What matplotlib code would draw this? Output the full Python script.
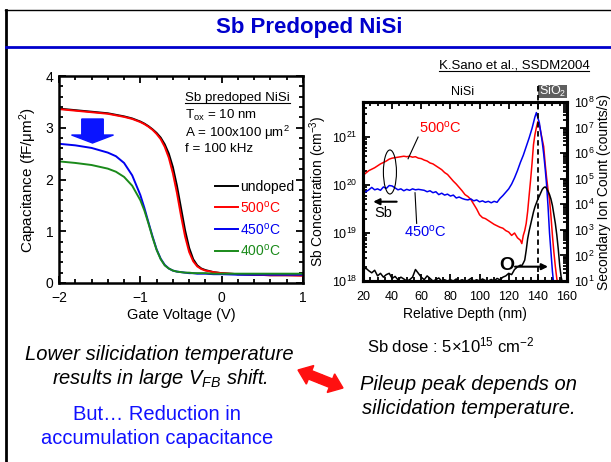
import numpy as np
import matplotlib
matplotlib.use("Agg")
import matplotlib.pyplot as plt
from matplotlib.patches import Ellipse, Rectangle, FancyArrow
from matplotlib.lines import Line2D
from matplotlib.ticker import MultipleLocator, LogLocator, NullFormatter
import matplotlib.transforms as mtransforms

plt.rcParams['font.family'] = ['Liberation Sans', 'DejaVu Sans']
plt.rcParams['mathtext.fontset'] = 'custom'
plt.rcParams['mathtext.rm'] = 'Liberation Sans'
plt.rcParams['mathtext.it'] = 'Liberation Sans:italic'
plt.rcParams['mathtext.bf'] = 'Liberation Sans:bold'

W, H = 611, 462

# C-V curves (gate voltage in V, capacitance in fF/um^2)
gate_v = [-2.0, -1.8, -1.6, -1.4, -1.3, -1.2, -1.1, -1.0, -0.95, -0.9, -0.85, -0.8,
          -0.75, -0.7, -0.65, -0.6, -0.55, -0.5, -0.45, -0.4, -0.35, -0.3, -0.25,
          -0.2, -0.1, 0.0, 0.2, 0.4, 0.6, 0.8, 1.0]
cap_undoped = [3.37, 3.34, 3.31, 3.28, 3.25, 3.22, 3.18, 3.12, 3.08, 3.03, 2.97, 2.90,
               2.81, 2.68, 2.50, 2.24, 1.88, 1.45, 1.02, 0.68, 0.46, 0.34, 0.28,
               0.25, 0.21, 0.19, 0.17, 0.16, 0.15, 0.15, 0.15]
cap_500 = [3.36, 3.33, 3.30, 3.27, 3.24, 3.21, 3.17, 3.11, 3.07, 3.02, 2.96, 2.88,
           2.78, 2.63, 2.42, 2.12, 1.74, 1.30, 0.90, 0.60, 0.42, 0.32, 0.27,
           0.24, 0.21, 0.19, 0.17, 0.16, 0.15, 0.15, 0.14]
cap_450 = [2.69, 2.66, 2.61, 2.52, 2.45, 2.32, 2.08, 1.70, 1.45, 1.17, 0.90, 0.65,
           0.47, 0.35, 0.28, 0.24, 0.22, 0.21, 0.20, 0.19, 0.19, 0.18, 0.18,
           0.18, 0.17, 0.17, 0.16, 0.16, 0.16, 0.16, 0.16]
cap_400 = [2.35, 2.32, 2.28, 2.21, 2.15, 2.05, 1.88, 1.60, 1.40, 1.15, 0.88, 0.64,
           0.46, 0.34, 0.28, 0.24, 0.22, 0.21, 0.20, 0.20, 0.19, 0.19, 0.19,
           0.19, 0.18, 0.18, 0.18, 0.18, 0.18, 0.18, 0.18]

# SIMS profiles: log10 of Sb concentration (cm^-3) and O count (counts/s)
depth_500 = np.concatenate([np.arange(20, 129, 2), np.arange(129, 155)])
sb500_log = [20.20, 20.25, 20.30, 20.33, 20.36, 20.40, 20.44, 20.47, 20.50, 20.54,
             20.56, 20.57, 20.58, 20.59, 20.60, 20.59, 20.60, 20.58, 20.59, 20.56,
             20.55, 20.52, 20.50, 20.46, 20.44, 20.40, 20.36, 20.32, 20.26, 20.22,
             20.15, 20.08, 20.02, 19.95, 19.88, 19.80, 19.76, 19.70, 19.60, 19.50,
             19.38, 19.32, 19.30, 19.26, 19.22, 19.18, 19.15, 19.12, 19.10, 19.05,
             19.02, 18.95, 19.00, 18.90, 18.85,
             18.78, 18.95, 19.05, 19.20, 19.45, 19.78, 20.10, 20.45, 20.84, 21.05,
             21.20, 21.32, 21.25, 21.10, 20.95, 20.80, 20.45, 20.15, 19.90, 19.70,
             19.35, 18.95, 18.60, 18.30, 18.05, 17.90]

depth_450 = np.concatenate([np.arange(20, 137, 2), np.arange(137, 152)])
sb450_log = [19.88, 19.86, 19.90, 19.95, 19.90, 19.92, 19.89, 19.96, 19.93, 19.99,
             19.98, 19.94, 19.90, 19.92, 19.88, 19.91, 19.89, 19.92, 19.90, 19.91,
             19.90, 19.89, 19.86, 19.88, 19.84, 19.86, 19.80, 19.83, 19.79, 19.81,
             19.77, 19.79, 19.73, 19.75, 19.72, 19.70, 19.69, 19.71, 19.67, 19.69,
             19.65, 19.67, 19.64, 19.66, 19.63, 19.66, 19.64,
             19.72, 19.78, 19.85, 19.92, 20.02, 20.15, 20.30, 20.47, 20.62, 20.80,
             20.98, 21.18,
             21.30, 21.42, 21.51, 21.40, 21.30, 21.10, 20.90, 20.65, 20.35, 20.00,
             19.55, 19.00, 18.60, 18.20, 17.90]

depth_o = np.concatenate([np.arange(20, 129, 2), np.arange(129, 158)])
o_log = [1.45, 1.50, 1.40, 1.32, 1.42, 1.20, 1.30, 1.15, 1.25, 1.30,
         1.10, 1.18, 1.05, 1.15, 1.08, 1.00, 1.05, 1.15, 1.45, 1.30,
         1.15, 1.05, 1.20, 1.10, 1.00, 1.05, 1.12, 1.00, 1.05, 1.00,
         1.05, 1.00, 1.08, 1.00, 1.05, 1.00, 1.02, 1.10, 1.00, 1.05,
         1.00, 1.08, 1.02, 1.00, 1.06, 1.00, 1.10, 1.05, 1.15, 1.20,
         1.30, 1.25, 1.45, 1.55, 1.62,
         1.60, 1.70, 1.82, 2.20, 2.65, 2.95, 3.20, 3.45, 3.70, 3.90,
         4.05, 4.20, 4.32, 4.45, 4.58, 4.65, 4.68, 4.62, 4.50, 4.38,
         4.20, 3.95, 3.60, 3.25, 2.80, 2.25, 1.60, 1.15, 0.90]

RED = '#ff0000'
BLUE = '#0000f0'
GREEN = '#1a8a1a'
TITLE_BLUE = '#0000cc'


def fx(px):
    return px / W


def fy(py):
    return 1 - py / H


def px_in(px, py):
    return px / 100.0, (H - py) / 100.0


fig = plt.figure(figsize=(W / 100, H / 100), dpi=100, facecolor='white')

# slide frame and title
fig.add_artist(Line2D([fx(6), fx(6)], [fy(10), fy(462)], color='black', lw=2))
fig.add_artist(Line2D([fx(5), 1], [fy(10), fy(10)], color='black', lw=1))
fig.add_artist(Line2D([fx(6), 1], [fy(47), fy(47)], color=TITLE_BLUE, lw=2))
fig.text(fx(309), fy(27), 'Sb Predoped NiSi', fontsize=16, fontweight='bold',
         color=TITLE_BLUE, ha='center', va='center',
         family=['Liberation Sans Narrow', 'Liberation Sans'])

# ---- C-V plot ----
ax1 = fig.add_axes([fx(59), fy(283), 244 / W, 207 / H])
ax1.plot(gate_v, cap_undoped, color='black', lw=1.4, label='undoped')
ax1.plot(gate_v, cap_500, color=RED, lw=1.4, label='500$^{\\rm o}$C')
ax1.plot(gate_v, cap_450, color=BLUE, lw=1.4, label='450$^{\\rm o}$C')
ax1.plot(gate_v, cap_400, color=GREEN, lw=1.4, label='400$^{\\rm o}$C')
ax1.set_xlim(-2, 1)
ax1.set_ylim(0, 4)
ax1.xaxis.set_major_locator(MultipleLocator(1))
ax1.xaxis.set_minor_locator(MultipleLocator(0.2))
ax1.yaxis.set_major_locator(MultipleLocator(1))
ax1.yaxis.set_minor_locator(MultipleLocator(0.2))
ax1.tick_params(which='both', direction='in', top=True, right=True, labelsize=10, width=1.3)
ax1.tick_params(which='major', length=5)
ax1.tick_params(axis='x', which='major', pad=6)
ax1.tick_params(axis='y', which='major', pad=4)
ax1.tick_params(which='minor', length=3)
for s in ax1.spines.values():
    s.set_linewidth(1.8)
ax1.set_xlabel('Gate Voltage (V)', fontsize=10.5, labelpad=2)
ax1.set_ylabel('Capacitance (fF/μm$^2$)', fontsize=11, labelpad=5)
ax1.legend(loc='upper left', bbox_to_anchor=(0.639, 0.50), frameon=False, fontsize=10,
           handlelength=1.65, handletextpad=0.15, labelspacing=0.42, borderpad=0,
           borderaxespad=0, labelcolor='linecolor')

t_sb = fig.text(fx(185), fy(97.5), 'Sb predoped NiSi', fontsize=9.6, va='center')
fig.text(fx(185), fy(115.5), 'T$_{\\rm ox}$ = 10 nm', fontsize=9.6, va='center')
fig.text(fx(185), fy(133), 'A = 100x100 μm$^2$', fontsize=9.6, va='center')
fig.text(fx(185), fy(149.5), 'f = 100 kHz', fontsize=9.6, va='center')

# big blue arrow showing the drop in accumulation capacitance
x0, y0 = px_in(92.5, 119)
x1, y1 = px_in(92.5, 143)
fig.add_artist(FancyArrow(x0, y0, x1 - x0, y1 - y0, width=0.215, head_width=0.42,
                          head_length=0.08, length_includes_head=True, color='#0a14ff',
                          transform=fig.dpi_scale_trans))

# ---- SIMS plot ----
ax2 = fig.add_axes([fx(363), fy(281), 204 / W, 179 / H])
ax2.plot(depth_500, 10.0 ** np.array(sb500_log), color=RED, lw=1.1)
ax2.plot(depth_450, 10.0 ** np.array(sb450_log), color=BLUE, lw=1.1)
ax2.set_yscale('log')
ax2.set_xlim(20, 160)
ax2.set_ylim(1e18, 10 ** 21.73)
ax2.xaxis.set_major_locator(MultipleLocator(20))
ax2.xaxis.set_minor_locator(MultipleLocator(5))
ax2.yaxis.set_major_locator(LogLocator(base=10, numticks=10))
ax2.yaxis.set_minor_locator(LogLocator(base=10, subs=np.arange(2, 10), numticks=20))
ax2.yaxis.set_minor_formatter(NullFormatter())
ax2.tick_params(which='both', direction='in', top=True, right=False, labelsize=9, width=1.3)
ax2.tick_params(which='major', length=5)
ax2.tick_params(axis='x', which='major', pad=7)
ax2.tick_params(axis='y', which='major', pad=4)
ax2.tick_params(which='minor', length=3)
ax2.set_xlabel('Relative Depth (nm)', fontsize=10, labelpad=3)
ax2.set_ylabel('Sb Concentration (cm$^{-3}$)', fontsize=10, labelpad=2)

ax3 = ax2.twinx()
ax3.plot(depth_o, 10.0 ** np.array(o_log), color='black', lw=1.1)
ax3.set_yscale('log')
ax3.set_ylim(1e1, 1e8)
ax3.yaxis.set_major_locator(LogLocator(base=10, numticks=10))
ax3.yaxis.set_minor_locator(LogLocator(base=10, subs=np.arange(2, 10), numticks=20))
ax3.yaxis.set_minor_formatter(NullFormatter())
ax3.tick_params(which='both', direction='in', labelsize=9, width=1.3)
ax3.tick_params(which='major', length=5, pad=5)
ax3.tick_params(which='minor', length=3)
ax3.set_ylabel('Secondary Ion Count (counts/s)', fontsize=10, labelpad=2)
for a in (ax2, ax3):
    for s in a.spines.values():
        s.set_linewidth(2.2)

# NiSi / SiO2 interface marker
blend = mtransforms.blended_transform_factory(ax3.transData, ax3.transAxes)
ax3.plot([140, 140], [0, 1.095], transform=blend, color='black', lw=1.3,
         ls=(0, (3, 2)), clip_on=False)
ax3.add_patch(Rectangle((140, 1.022), 20, 0.073, transform=blend, facecolor='#5f5f5f',
                        edgecolor='none', clip_on=False))
ax3.text(150, 1.058, 'SiO$_2$', transform=blend, color='white', fontsize=9,
         ha='center', va='center')
ax3.text(88, 1.058, 'NiSi', transform=blend, color='black', fontsize=9,
         ha='center', va='center')

# annotations on the profiles
ta = ax3.transAxes
ax3.add_patch(Ellipse((0.132, 0.609), 0.064, 0.246, transform=ta, fill=False,
                      edgecolor='black', lw=0.8))
ax3.annotate('', xy=(0.050, 0.443), xytext=(0.165, 0.443), xycoords=ta,
             arrowprops=dict(arrowstyle='-|>', color='black', lw=1.5,
                             mutation_scale=9, shrinkA=0, shrinkB=0))
ax3.text(0.098, 0.38, 'Sb', transform=ta, fontsize=10.5, ha='center', va='center')
ax3.text(0.378, 0.855, '500$^{\\rm o}$C', transform=ta, color=RED, fontsize=10.5,
         ha='center', va='center')
ax3.plot([0.270, 0.221], [0.804, 0.683], transform=ta, color='black', lw=0.8)
ax3.text(0.304, 0.275, '450$^{\\rm o}$C', transform=ta, color=BLUE, fontsize=10.5,
         ha='center', va='center')
ax3.plot([0.263, 0.255], [0.322, 0.493], transform=ta, color='black', lw=0.8)
ax3.text(0.703, 0.089, 'O', transform=ta, fontsize=14, fontweight='bold',
         ha='center', va='center')
ax3.annotate('', xy=(0.907, 0.08), xytext=(0.745, 0.08), xycoords=ta,
             arrowprops=dict(arrowstyle='-|>', color='black', lw=1.5,
                             mutation_scale=9, shrinkA=0, shrinkB=0))

t_ref = fig.text(fx(514), fy(66), 'K.Sano et al., SSDM2004', fontsize=9.5,
                 ha='center', va='center')

# bottom remarks
fig.text(fx(159), fy(355), 'Lower silicidation temperature', fontsize=14.5,
         style='italic', ha='center', va='center')
fig.text(fx(160), fy(379), 'results in large $V_{FB}$ shift.', fontsize=14.5,
         style='italic', ha='center', va='center')
fig.text(fx(157), fy(414), 'But… Reduction in', fontsize=14.5, color='#1010ff',
         ha='center', va='center')
fig.text(fx(157), fy(438), 'accumulation capacitance', fontsize=14.5, color='#1010ff',
         ha='center', va='center')
fig.text(fx(451), fy(345), 'Sb dose : 5×10$^{15}$ cm$^{-2}$', fontsize=12,
         ha='center', va='center')
fig.text(fx(469), fy(385), 'Pileup peak depends on', fontsize=14.5,
         style='italic', ha='center', va='center')
fig.text(fx(469), fy(408), 'silicidation temperature.', fontsize=14.5,
         style='italic', ha='center', va='center')

# red double-headed arrow between the two remarks
ax_, ay_ = px_in(298, 370)
bx_, by_ = px_in(343, 388)
mx_, my_ = (ax_ + bx_) / 2, (ay_ + by_) / 2
for tx, ty in ((ax_, ay_), (bx_, by_)):
    fig.add_artist(FancyArrow(mx_, my_, tx - mx_, ty - my_, width=0.09, head_width=0.2,
                              head_length=0.13, length_includes_head=True, color='#ff1010',
                              transform=fig.dpi_scale_trans))

# underline the two captions
fig.canvas.draw()
renderer = fig.canvas.get_renderer()
for t in (t_sb, t_ref):
    bb = t.get_window_extent(renderer=renderer).transformed(fig.transFigure.inverted())
    fig.add_artist(Line2D([bb.x0, bb.x1], [bb.y0 + 0.002, bb.y0 + 0.002],
                          color='black', lw=0.8))

fig.savefig('out.png', dpi=100)
